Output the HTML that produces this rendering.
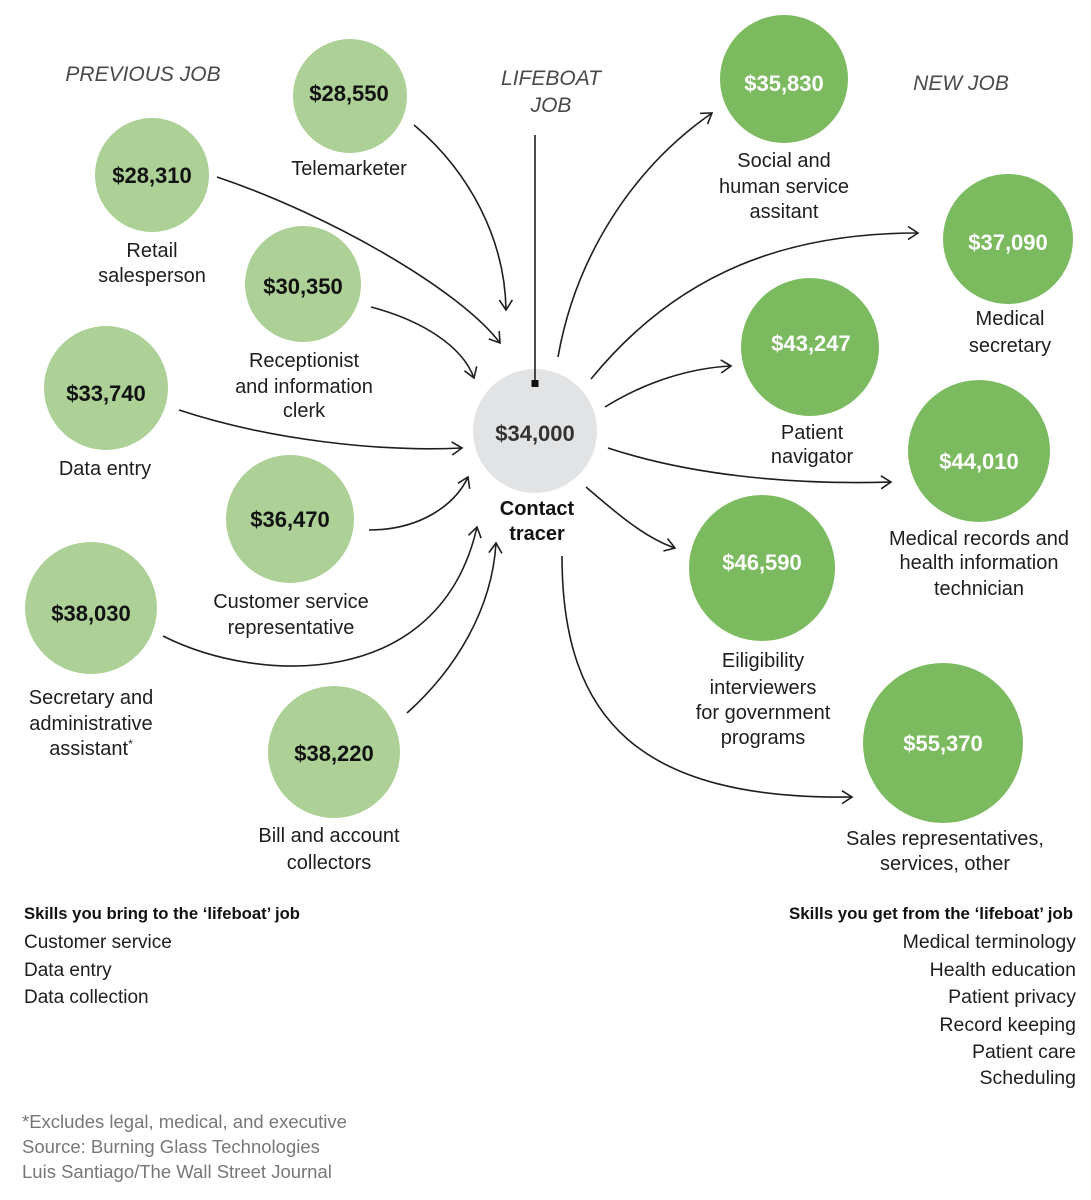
<!DOCTYPE html>
<html>
<head>
<meta charset="utf-8">
<style>
  html, body { margin:0; padding:0; background:#ffffff; }
  svg { display:block; }
  text { font-family: "Liberation Sans", "DejaVu Sans", sans-serif; }
  .val { font-size:22px; font-weight:bold; text-anchor:middle; }
  .lbl { font-size:20px; fill:#1e1e1e; text-anchor:middle; }
  .hdr { font-size:21px; font-style:italic; fill:#4a4a4a; text-anchor:middle; }
  .arr { fill:none; stroke:#1e1e1e; stroke-width:1.6; marker-end:url(#ah); }
</style>
</head>
<body>
<svg width="1091" height="1200" viewBox="0 0 1091 1200" xmlns="http://www.w3.org/2000/svg">
  <defs>
    <marker id="ah" markerUnits="userSpaceOnUse" markerWidth="14" markerHeight="16" refX="12" refY="8" orient="auto">
      <path d="M2,1.5 L12,8 L2,14.5" fill="none" stroke="#1e1e1e" stroke-width="1.6" stroke-linejoin="miter"/>
    </marker>
  </defs>

  <!-- headers -->
  <text class="hdr" x="143" y="81">PREVIOUS JOB</text>
  <text class="hdr" x="551" y="85">LIFEBOAT</text>
  <text class="hdr" x="551" y="112">JOB</text>
  <text class="hdr" x="961" y="90">NEW JOB</text>

  <!-- previous job circles -->
  <g fill="#acd095">
    <circle cx="350" cy="96" r="57"/>
    <circle cx="152" cy="175" r="57"/>
    <circle cx="303" cy="284" r="58"/>
    <circle cx="106" cy="388" r="62"/>
    <circle cx="290" cy="519" r="64"/>
    <circle cx="91" cy="608" r="66"/>
    <circle cx="334" cy="752" r="66"/>
  </g>
  <g fill="#111">
    <text class="val" x="349" y="101">$28,550</text>
    <text class="val" x="152" y="183">$28,310</text>
    <text class="val" x="303" y="294">$30,350</text>
    <text class="val" x="106" y="401">$33,740</text>
    <text class="val" x="290" y="527">$36,470</text>
    <text class="val" x="91" y="621">$38,030</text>
    <text class="val" x="334" y="761">$38,220</text>
  </g>

  <!-- center -->
  <circle cx="535" cy="431" r="62" fill="#e2e3e5"/>
  <text class="val" x="535" y="441" fill="#333">$34,000</text>
  <text x="537" y="515" style="font-size:20px;font-weight:bold;text-anchor:middle;fill:#111">Contact</text>
  <text x="537" y="540" style="font-size:20px;font-weight:bold;text-anchor:middle;fill:#111">tracer</text>
  <line x1="535" y1="135" x2="535" y2="382" stroke="#1e1e1e" stroke-width="1.6"/>
  <rect x="531.5" y="380" width="7" height="7" fill="#111"/>

  <!-- new job circles -->
  <g fill="#7bba5f">
    <circle cx="784" cy="79" r="64"/>
    <circle cx="1008" cy="239" r="65"/>
    <circle cx="810" cy="347" r="69"/>
    <circle cx="979" cy="451" r="71"/>
    <circle cx="762" cy="568" r="73"/>
    <circle cx="943" cy="743" r="80"/>
  </g>
  <g fill="#ffffff">
    <text class="val" x="784" y="91">$35,830</text>
    <text class="val" x="1008" y="250">$37,090</text>
    <text class="val" x="811" y="351">$43,247</text>
    <text class="val" x="979" y="469">$44,010</text>
    <text class="val" x="762" y="570">$46,590</text>
    <text class="val" x="943" y="751">$55,370</text>
  </g>

  <!-- labels left -->
  <text class="lbl" x="349" y="175">Telemarketer</text>
  <text class="lbl" x="152" y="257">Retail</text>
  <text class="lbl" x="152" y="282">salesperson</text>
  <text class="lbl" x="304" y="367">Receptionist</text>
  <text class="lbl" x="304" y="393">and information</text>
  <text class="lbl" x="304" y="417">clerk</text>
  <text class="lbl" x="105" y="475">Data entry</text>
  <text class="lbl" x="291" y="608">Customer service</text>
  <text class="lbl" x="291" y="634">representative</text>
  <text class="lbl" x="91" y="704">Secretary and</text>
  <text class="lbl" x="91" y="730">administrative</text>
  <text class="lbl" x="91" y="755">assistant<tspan style="font-size:12px" dy="-7">*</tspan></text>
  <text class="lbl" x="329" y="842">Bill and account</text>
  <text class="lbl" x="329" y="869">collectors</text>

  <!-- labels right -->
  <text class="lbl" x="784" y="167">Social and</text>
  <text class="lbl" x="784" y="193">human service</text>
  <text class="lbl" x="784" y="218">assitant</text>
  <text class="lbl" x="1010" y="325">Medical</text>
  <text class="lbl" x="1010" y="352">secretary</text>
  <text class="lbl" x="812" y="439">Patient</text>
  <text class="lbl" x="812" y="463">navigator</text>
  <text class="lbl" x="979" y="545">Medical records and</text>
  <text class="lbl" x="979" y="569">health information</text>
  <text class="lbl" x="979" y="595">technician</text>
  <text class="lbl" x="763" y="667">Eiligibility</text>
  <text class="lbl" x="763" y="694">interviewers</text>
  <text class="lbl" x="763" y="719">for government</text>
  <text class="lbl" x="763" y="744">programs</text>
  <text class="lbl" x="945" y="845">Sales representatives,</text>
  <text class="lbl" x="945" y="870">services, other</text>

  <!-- incoming arrows -->
  <path class="arr" d="M414,125 C470,172 505,240 506,310"/>
  <path class="arr" d="M217,177 C330,215 460,290 500,343"/>
  <path class="arr" d="M371,307 C420,320 462,345 474,378"/>
  <path class="arr" d="M179,410 C270,440 380,452 462,448"/>
  <path class="arr" d="M369,530 C420,530 455,505 468,477"/>
  <path class="arr" d="M163,636 C260,685 440,690 477,527"/>
  <path class="arr" d="M407,713 C455,670 492,610 496,543"/>

  <!-- outgoing arrows -->
  <path class="arr" d="M558,357 C575,260 630,170 712,113"/>
  <path class="arr" d="M591,379 C680,270 790,233 918,233"/>
  <path class="arr" d="M605,407 C645,382 690,368 731,366"/>
  <path class="arr" d="M608,448 C690,475 790,485 891,482"/>
  <path class="arr" d="M586,487 C615,512 645,538 675,548"/>
  <path class="arr" d="M562,556 C562,720 640,800 852,797"/>

  <!-- bottom skills -->
  <text x="24" y="919" textLength="276" lengthAdjust="spacingAndGlyphs" style="font-size:17px;font-weight:bold;fill:#111">Skills you bring to the ‘lifeboat’ job</text>
  <g style="font-size:19px;fill:#1e1e1e">
    <text x="24" y="948">Customer service</text>
    <text x="24" y="976">Data entry</text>
    <text x="24" y="1003">Data collection</text>
  </g>
  <text x="789" y="919" textLength="284" lengthAdjust="spacingAndGlyphs" style="font-size:17px;font-weight:bold;fill:#111">Skills you get from the ‘lifeboat’ job</text>
  <g style="font-size:19.5px;fill:#1e1e1e;text-anchor:end">
    <text x="1076" y="948">Medical terminology</text>
    <text x="1076" y="976">Health education</text>
    <text x="1076" y="1003">Patient privacy</text>
    <text x="1076" y="1031">Record keeping</text>
    <text x="1076" y="1058">Patient care</text>
    <text x="1076" y="1084">Scheduling</text>
  </g>

  <!-- footnotes -->
  <g style="font-size:18.5px;fill:#777">
    <text x="22" y="1128">*Excludes legal, medical, and executive</text>
    <text x="22" y="1153">Source: Burning Glass Technologies</text>
    <text x="22" y="1178">Luis Santiago/The Wall Street Journal</text>
  </g>
</svg>
</body>
</html>
